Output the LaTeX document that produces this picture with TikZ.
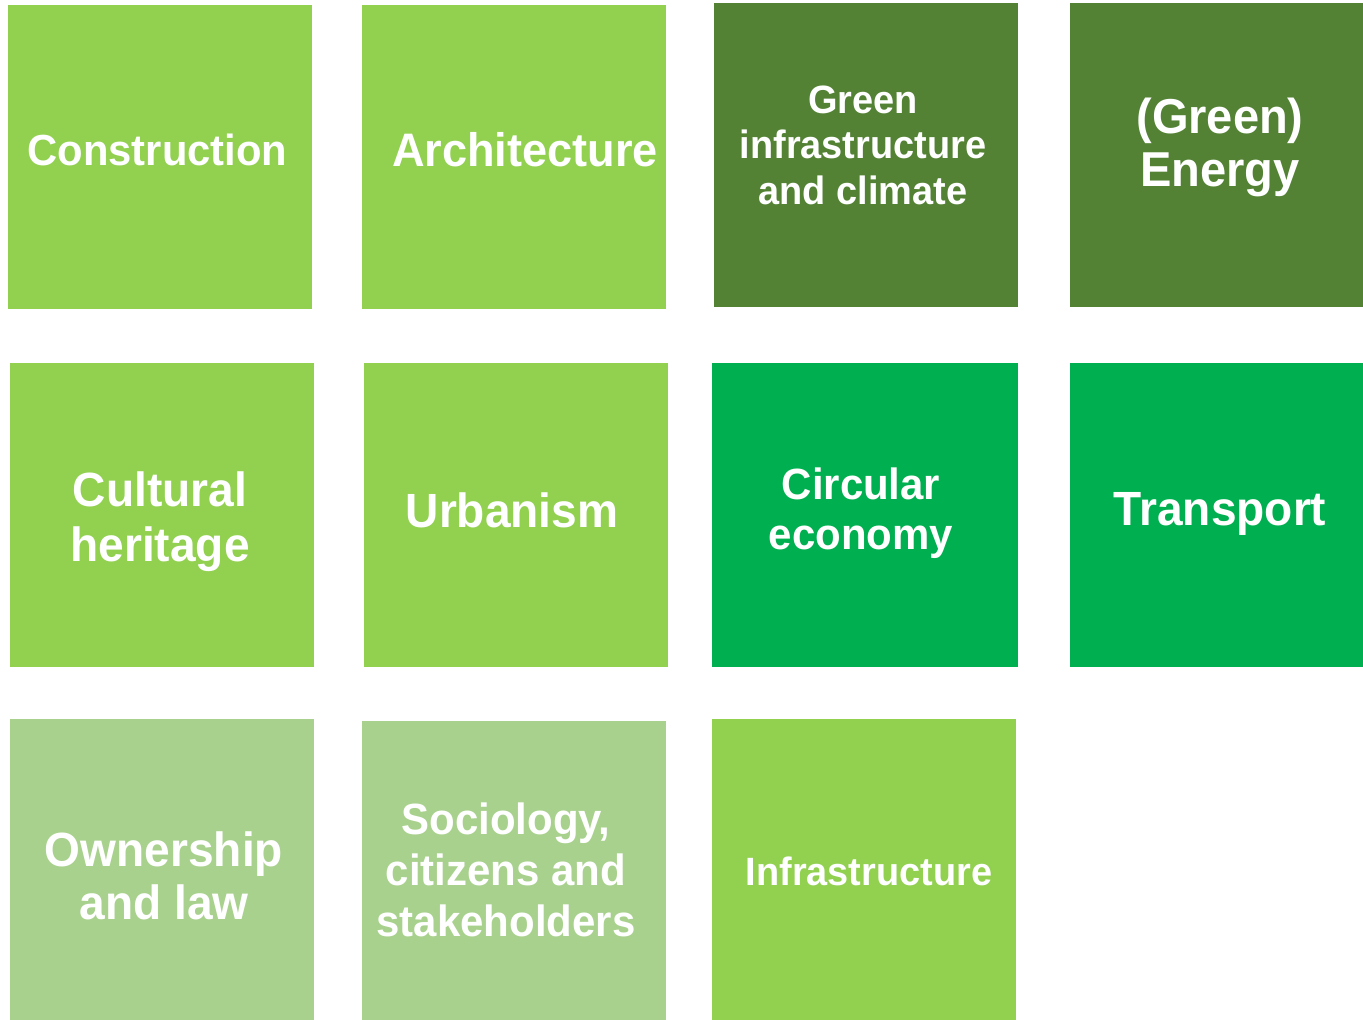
\documentclass[tikz,border=0pt]{standalone}
\usepackage{fontspec}
\setmainfont{Liberation Sans}[FakeStretch=0.96]
\definecolor{lgreen}{HTML}{92D050}
\definecolor{dgreen}{HTML}{548235}
\definecolor{mgreen}{HTML}{00B050}
\definecolor{pgreen}{HTML}{A9D18E}
\tikzset{
  lbl/.style={text=white,font=\bfseries,align=center,inner sep=0pt},
}
\newcommand{\fs}[2]{\fontsize{#1}{#2}\selectfont}
\begin{document}
\begin{tikzpicture}[x=1pt,y=-1pt]
\useasboundingbox (0,0) rectangle (1363,1020);
% row 1
\fill[lgreen] (8,5) rectangle (312,309);
\fill[lgreen] (362,5) rectangle (666,309);
\fill[dgreen] (714,3) rectangle (1018,307);
\fill[dgreen] (1070,3) rectangle (1363,307);
% row 2
\fill[lgreen] (10,363) rectangle (314,667);
\fill[lgreen] (364,363) rectangle (668,667);
\fill[mgreen] (712,363) rectangle (1018,667);
\fill[mgreen] (1070,363) rectangle (1363,667);
% row 3
\fill[pgreen] (10,719) rectangle (314,1020);
\fill[pgreen] (362,721) rectangle (666,1020);
\fill[lgreen] (712,719) rectangle (1016,1020);
% labels
\node[lbl,font=\bfseries\fs{43.5}{50}] (t1) at (157.5,150) {Construction};
\node[lbl,font=\bfseries\fs{47}{54}] (t2) at (525,150) {Architecture};
\node[lbl,font=\bfseries\fs{39.5}{45.5}] (t3) at (863,145) {Green\\infrastructure\\and climate};
\node[lbl,font=\bfseries\fs{49}{53}] (t4) at (1220,147) {(Green)\\Energy};
\node[lbl,font=\bfseries\fs{48}{55}] (t5) at (160,522) {Cultural\\heritage};
\node[lbl,font=\bfseries\fs{48}{55}] (t6) at (512,510) {Urbanism};
\node[lbl,font=\bfseries\fs{43.7}{50}] (t7) at (861,513) {Circular\\economy};
\node[lbl,font=\bfseries\fs{48}{55}] (t8) at (1220,514) {Transport};
\node[lbl,font=\bfseries\fs{48}{53}] (t9) at (164,876) {Ownership\\and law};
\node[lbl,font=\bfseries\fs{43.7}{51}] (t10) at (506,870) {Sociology,\\citizens and\\stakeholders};
\node[lbl,font=\bfseries\fs{39.5}{45}] (t11) at (869,871) {Infrastructure};
\end{tikzpicture}
\end{document}
